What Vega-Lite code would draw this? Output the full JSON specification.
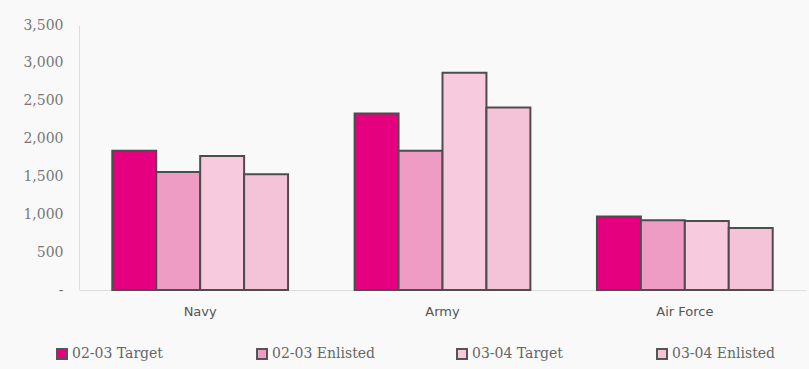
{
  "$schema": "https://vega.github.io/schema/vega-lite/v6.json",
  "width": 727,
  "height": 265,
  "autosize": {"type": "none"},
  "padding": {"left": 79, "top": 25, "right": 3, "bottom": 79},
  "background": "#f9f9f9",
  "data": {
    "values": [
      {"branch": "Navy", "series": "02-03 Target", "count": 1840},
      {"branch": "Navy", "series": "02-03 Enlisted", "count": 1560},
      {"branch": "Navy", "series": "03-04 Target", "count": 1770},
      {"branch": "Navy", "series": "03-04 Enlisted", "count": 1530},
      {"branch": "Army", "series": "02-03 Target", "count": 2330},
      {"branch": "Army", "series": "02-03 Enlisted", "count": 1840},
      {"branch": "Army", "series": "03-04 Target", "count": 2870},
      {"branch": "Army", "series": "03-04 Enlisted", "count": 2410},
      {"branch": "Air Force", "series": "02-03 Target", "count": 970},
      {"branch": "Air Force", "series": "02-03 Enlisted", "count": 920},
      {"branch": "Air Force", "series": "03-04 Target", "count": 910},
      {"branch": "Air Force", "series": "03-04 Enlisted", "count": 820}
    ]
  },
  "mark": {"type": "bar", "stroke": "#4d4d4d", "strokeWidth": 2},
  "encoding": {
    "x": {
      "field": "branch",
      "type": "nominal",
      "sort": ["Navy", "Army", "Air Force"],
      "scale": {"paddingInner": 0.2747, "paddingOuter": 0.1374},
      "axis": {
        "title": null,
        "labelAngle": 0,
        "ticks": false,
        "domainColor": "#dddddd",
        "labelPadding": 15,
        "labelFont": "DejaVu Sans",
        "labelFontSize": 13,
        "labelColor": "#555555"
      }
    },
    "xOffset": {
      "field": "series",
      "type": "nominal",
      "sort": ["02-03 Target", "02-03 Enlisted", "03-04 Target", "03-04 Enlisted"],
      "scale": {"paddingInner": 0, "paddingOuter": 0}
    },
    "y": {
      "field": "count",
      "type": "quantitative",
      "scale": {"domain": [0, 3500], "nice": false},
      "axis": {
        "title": null,
        "values": [0, 500, 1000, 1500, 2000, 2500, 3000, 3500],
        "labelExpr": "datum.value == 0 ? '-' : format(datum.value, ',')",
        "grid": false,
        "ticks": false,
        "domainColor": "#dddddd",
        "labelPadding": 16,
        "labelFont": "DejaVu Serif",
        "labelFontSize": 14,
        "labelColor": "#777777"
      }
    },
    "color": {
      "field": "series",
      "type": "nominal",
      "sort": ["02-03 Target", "02-03 Enlisted", "03-04 Target", "03-04 Enlisted"],
      "scale": {
        "domain": ["02-03 Target", "02-03 Enlisted", "03-04 Target", "03-04 Enlisted"],
        "range": ["#e4007f", "#ee9cc4", "#f7cade", "#f5c3d8"]
      },
      "legend": {
        "title": null,
        "orient": "none",
        "legendX": -24,
        "legendY": 322,
        "direction": "horizontal",
        "columns": 4,
        "gridAlign": "all",
        "columnPadding": 77,
        "symbolType": "square",
        "symbolSize": 100,
        "symbolStrokeColor": "#555555",
        "symbolStrokeWidth": 2,
        "labelFont": "DejaVu Serif",
        "labelFontSize": 14,
        "labelColor": "#666666",
        "labelOffset": 3
      }
    }
  },
  "config": {"view": {"stroke": null}}
}
